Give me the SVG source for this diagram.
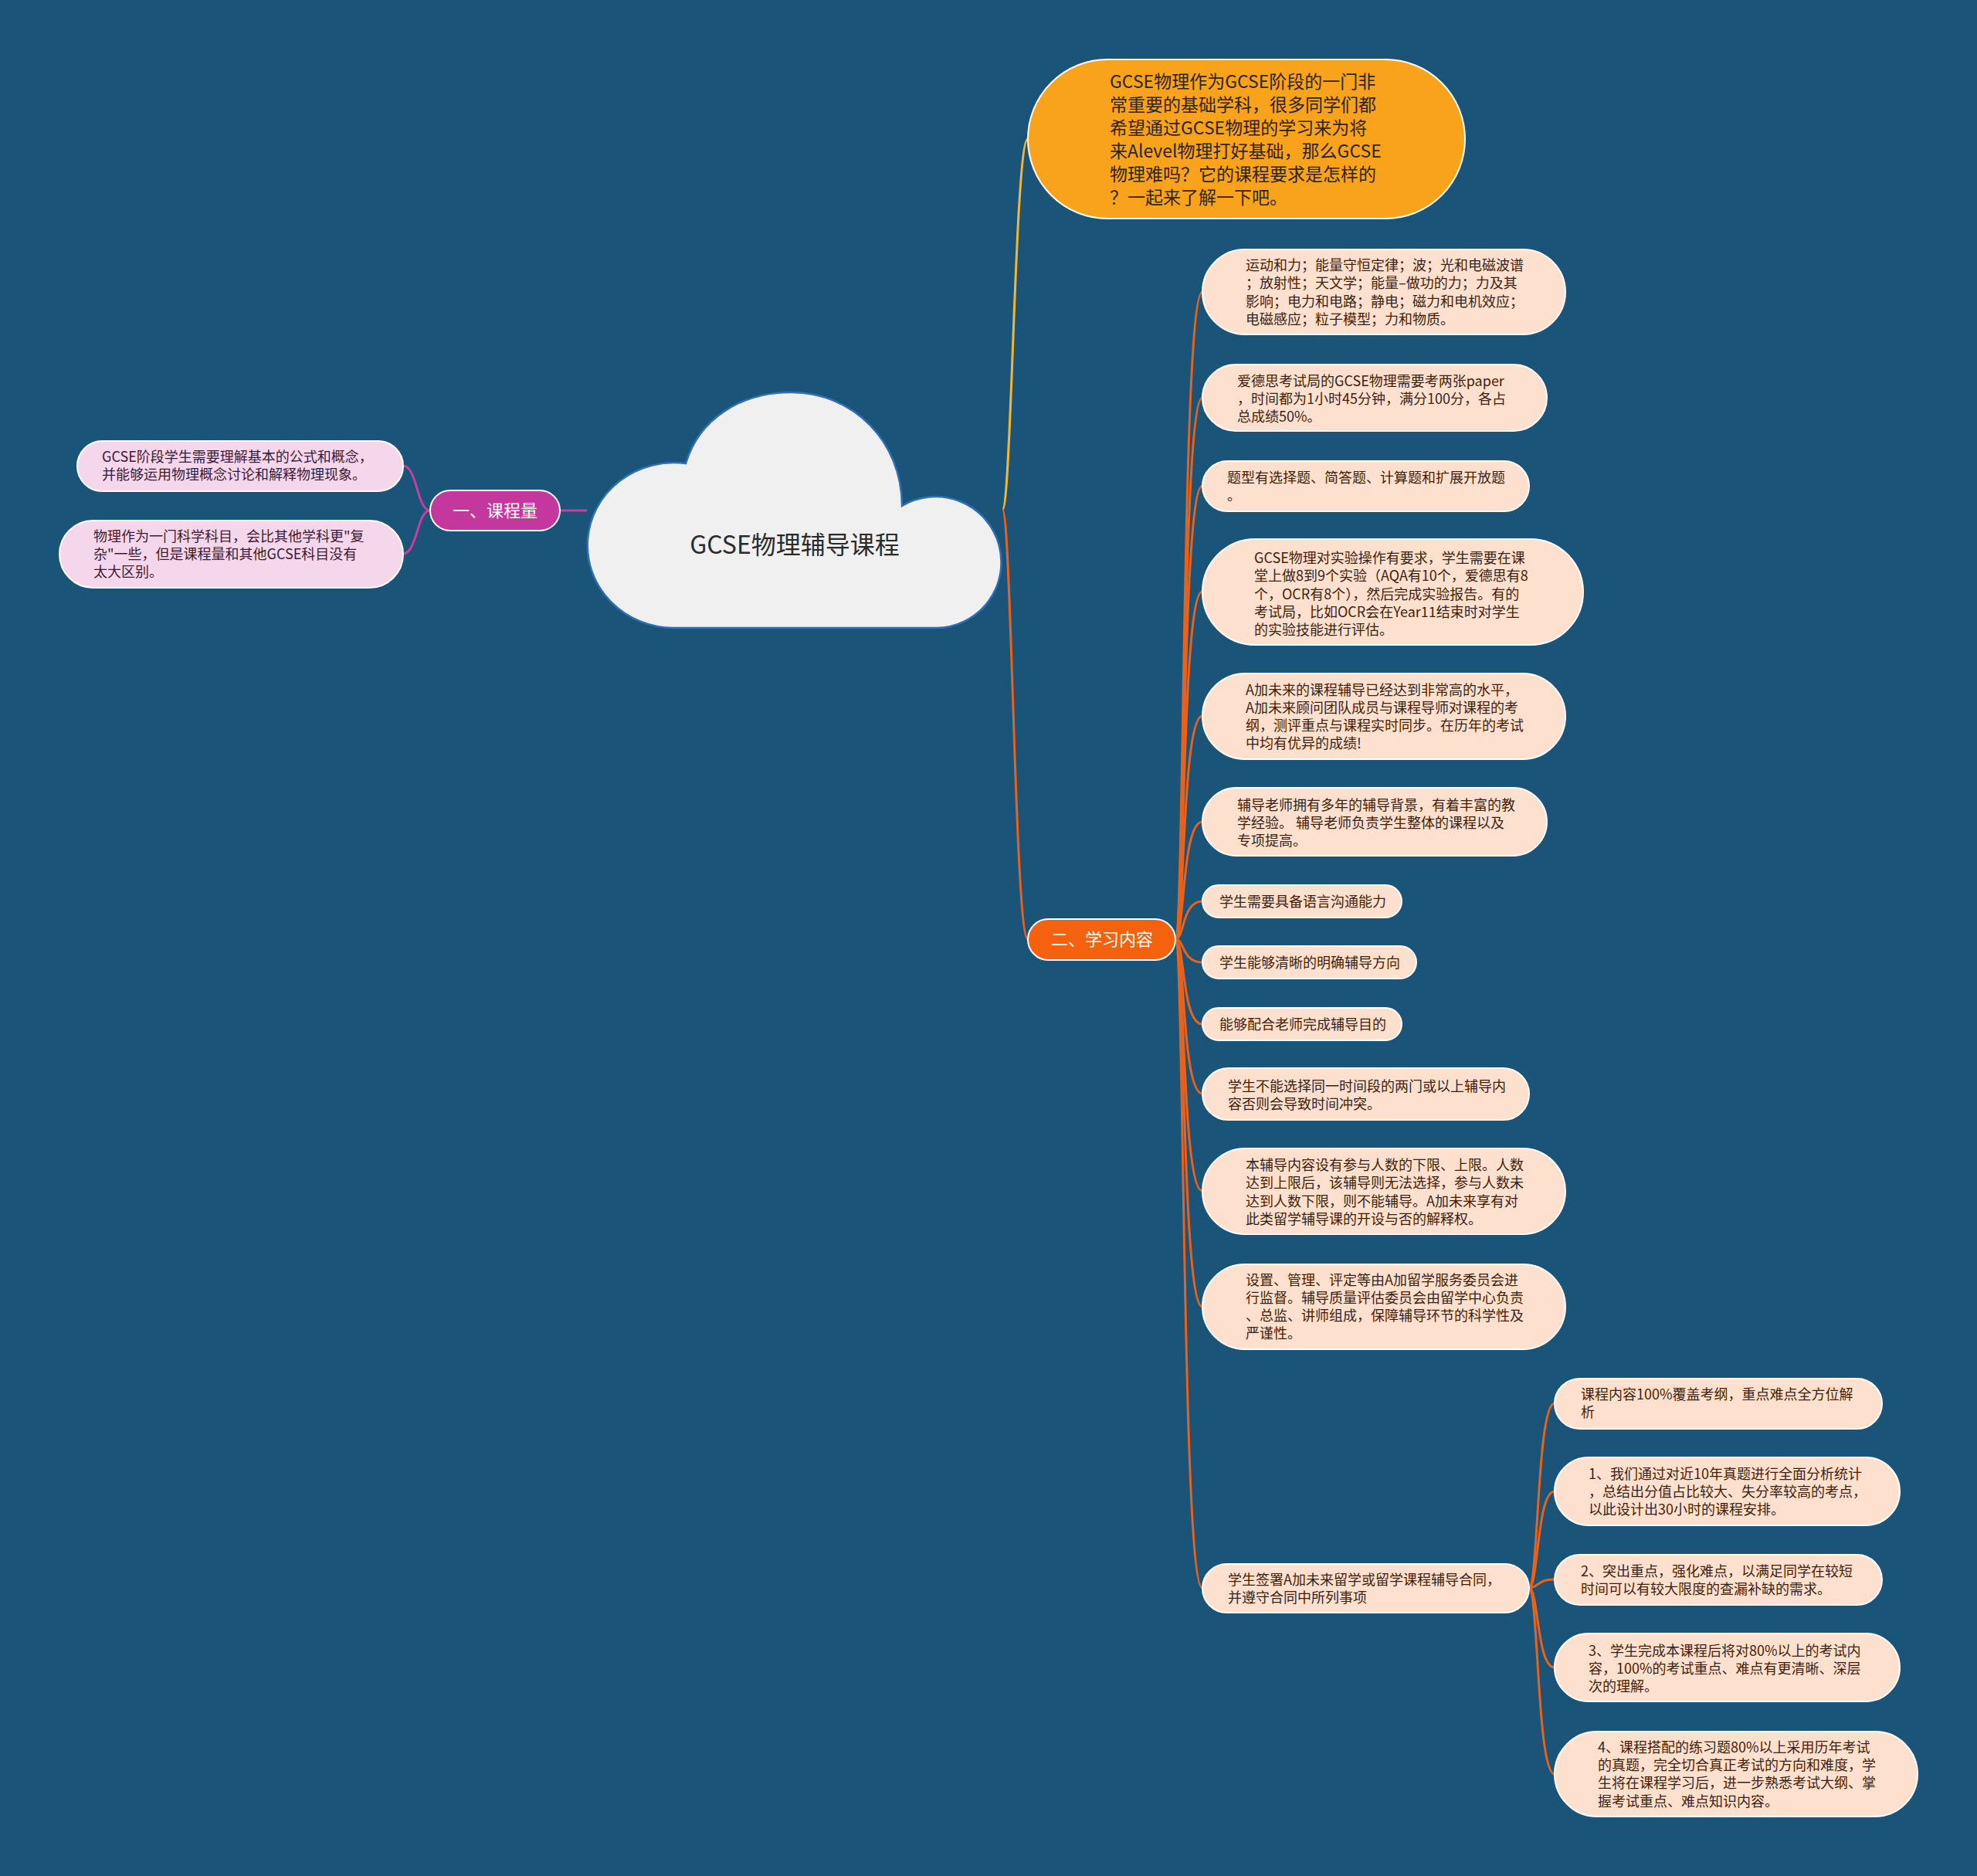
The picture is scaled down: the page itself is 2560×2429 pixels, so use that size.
<svg xmlns="http://www.w3.org/2000/svg" width="2560" height="2429" viewBox="0 0 2560 2429">
<style>
text{font-family:"Noto Sans CJK SC","Noto Sans",sans-serif}
.bg{fill:#1b5479}
.peach{fill:#fde0cd;stroke:#ffffff;stroke-width:2}
.pink{fill:#f5d7ec;stroke:#ffffff;stroke-width:2}
.t18{font-size:18px;fill:#3f1e0c}
.tp{font-size:18px;fill:#3d1a33}
.tw{font-size:22px;fill:#ffffff;text-anchor:middle}
.co{fill:none;stroke:#e8621c;stroke-width:3}
.cm{fill:none;stroke:#c2409e;stroke-width:3}
.cy{fill:none;stroke:#f2b632;stroke-width:3}
</style>
<rect class="bg" x="0" y="0" width="2560" height="2429"/>

<g id="connectors">
  <path class="cm" d="M 760 661 L 725 661"/>
  <path class="cm" d="M 557 661 C 540 661, 540 603, 522 603"/>
  <path class="cm" d="M 557 661 C 540 661, 540 717, 522 717"/>
  <path class="cy" d="M 1298 660 C 1310 660, 1314 180, 1331 180"/>
  <path class="co" d="M 1298 660 C 1310 660, 1314 1216, 1331 1216"/>
  <path class="co" d="M 1522 1216 C 1534 1216, 1530 378, 1557 378"/>
  <path class="co" d="M 1522 1216 C 1534 1216, 1530 515, 1557 515"/>
  <path class="co" d="M 1522 1216 C 1534 1216, 1530 629, 1557 629"/>
  <path class="co" d="M 1522 1216 C 1534 1216, 1530 766, 1557 766"/>
  <path class="co" d="M 1522 1216 C 1534 1216, 1530 927, 1557 927"/>
  <path class="co" d="M 1522 1216 C 1534 1216, 1530 1064, 1557 1064"/>
  <path class="co" d="M 1522 1216 C 1534 1216, 1530 1167, 1557 1167"/>
  <path class="co" d="M 1522 1216 C 1534 1216, 1530 1246, 1557 1246"/>
  <path class="co" d="M 1522 1216 C 1534 1216, 1530 1326, 1557 1326"/>
  <path class="co" d="M 1522 1216 C 1534 1216, 1530 1416, 1557 1416"/>
  <path class="co" d="M 1522 1216 C 1534 1216, 1530 1542, 1557 1542"/>
  <path class="co" d="M 1522 1216 C 1534 1216, 1530 1692, 1557 1692"/>
  <path class="co" d="M 1522 1216 C 1534 1216, 1530 2056, 1557 2056"/>
  <path class="co" d="M 1980 2056 C 1992 2056, 1990 1817, 2013 1817"/>
  <path class="co" d="M 1980 2056 C 1992 2056, 1990 1931, 2013 1931"/>
  <path class="co" d="M 1980 2056 C 1992 2056, 1990 2045, 2013 2045"/>
  <path class="co" d="M 1980 2056 C 1992 2056, 1990 2159, 2013 2159"/>
  <path class="co" d="M 1980 2056 C 1992 2056, 1990 2297, 2013 2297"/>
</g>

<g id="root">
  <path d="M 888 600 C 905 543, 958 508, 1025 508 C 1105 508, 1168 572, 1168 655 A 85 85 0 1 1 1213 813 L 872 813 A 112 107 0 1 1 888 600 Z" fill="#f0f0f0" stroke="#2f6fb3" stroke-width="2.5"/>
  <text x="1029" y="717" font-size="32" fill="#2b2b2b" text-anchor="middle">GCSE物理辅导课程</text>
</g>

<g id="branch-1">
  <rect x="557" y="635" width="168" height="52" rx="26" fill="#c4379c" stroke="#ffffff" stroke-width="2"/>
  <text class="tw" x="641" y="669">一、课程量</text>
</g>
<g id="b1-c1">
  <rect class="pink" x="100" y="571" width="422" height="65" rx="32.5"/>
  <text class="tp"><tspan x="132" y="598">GCSE阶段学生需要理解基本的公式和概念，</tspan><tspan x="132" y="621">并能够运用物理概念讨论和解释物理现象。</tspan></text>
</g>
<g id="b1-c2">
  <rect class="pink" x="77" y="674" width="445" height="87" rx="43.5"/>
  <text class="tp"><tspan x="121" y="701">物理作为一门科学科目，会比其他学科更"复</tspan><tspan x="121" y="724">杂"一些，但是课程量和其他GCSE科目没有</tspan><tspan x="121" y="747">太大区别。</tspan></text>
</g>

<g id="intro">
  <rect x="1331" y="77" width="566" height="206" rx="103" fill="#f9a21c" stroke="#ffffff" stroke-width="2"/>
  <text font-size="23" fill="#2e2410"><tspan x="1437" y="114">GCSE物理作为GCSE阶段的一门非</tspan><tspan x="1437" y="144">常重要的基础学科，很多同学们都</tspan><tspan x="1437" y="174">希望通过GCSE物理的学习来为将</tspan><tspan x="1437" y="204">来Alevel物理打好基础，那么GCSE</tspan><tspan x="1437" y="234">物理难吗？它的课程要求是怎样的</tspan><tspan x="1437" y="264">？一起来了解一下吧。</tspan></text>
</g>

<g id="branch-2">
  <rect x="1331" y="1190" width="191" height="53" rx="26.5" fill="#f4620f" stroke="#ffffff" stroke-width="2"/>
  <text class="tw" x="1427" y="1224">二、学习内容</text>
</g>

<g id="b2-c1">
  <rect class="peach" x="1557" y="323" width="470" height="110" rx="55"/>
  <text class="t18"><tspan x="1613" y="350">运动和力；能量守恒定律；波；光和电磁波谱</tspan><tspan x="1613" y="373">；放射性；天文学；能量–做功的力；力及其</tspan><tspan x="1613" y="397">影响；电力和电路；静电；磁力和电机效应；</tspan><tspan x="1613" y="420">电磁感应；粒子模型；力和物质。</tspan></text>
</g>
<g id="b2-c2">
  <rect class="peach" x="1557" y="472" width="446" height="86" rx="43"/>
  <text class="t18"><tspan x="1602" y="500">爱德思考试局的GCSE物理需要考两张paper</tspan><tspan x="1602" y="523">，时间都为1小时45分钟，满分100分，各占</tspan><tspan x="1602" y="546">总成绩50%。</tspan></text>
</g>
<g id="b2-c3">
  <rect class="peach" x="1557" y="597" width="423" height="65" rx="32.5"/>
  <text class="t18"><tspan x="1589" y="625">题型有选择题、简答题、计算题和扩展开放题</tspan><tspan x="1589" y="648">。</tspan></text>
</g>
<g id="b2-c4">
  <rect class="peach" x="1557" y="698" width="493" height="137" rx="68.5"/>
  <text class="t18"><tspan x="1624" y="729">GCSE物理对实验操作有要求，学生需要在课</tspan><tspan x="1624" y="752">堂上做8到9个实验（AQA有10个，爱德思有8</tspan><tspan x="1624" y="776">个，OCR有8个），然后完成实验报告。有的</tspan><tspan x="1624" y="799">考试局，比如OCR会在Year11结束时对学生</tspan><tspan x="1624" y="822">的实验技能进行评估。</tspan></text>
</g>
<g id="b2-c5">
  <rect class="peach" x="1557" y="872" width="470" height="111" rx="55.5"/>
  <text class="t18"><tspan x="1613" y="900">A加未来的课程辅导已经达到非常高的水平，</tspan><tspan x="1613" y="923">A加未来顾问团队成员与课程导师对课程的考</tspan><tspan x="1613" y="946">纲，测评重点与课程实时同步。在历年的考试</tspan><tspan x="1613" y="969">中均有优异的成绩!</tspan></text>
</g>
<g id="b2-c6">
  <rect class="peach" x="1557" y="1020" width="446" height="88" rx="44"/>
  <text class="t18"><tspan x="1602" y="1049">辅导老师拥有多年的辅导背景，有着丰富的教</tspan><tspan x="1602" y="1072">学经验。 辅导老师负责学生整体的课程以及</tspan><tspan x="1602" y="1095">专项提高。</tspan></text>
</g>
<g id="b2-c7">
  <rect class="peach" x="1557" y="1146" width="258" height="42" rx="21"/>
  <text class="t18" x="1579" y="1174">学生需要具备语言沟通能力</text>
</g>
<g id="b2-c8">
  <rect class="peach" x="1557" y="1225" width="277" height="42" rx="21"/>
  <text class="t18" x="1579" y="1253">学生能够清晰的明确辅导方向</text>
</g>
<g id="b2-c9">
  <rect class="peach" x="1557" y="1305" width="258" height="42" rx="21"/>
  <text class="t18" x="1579" y="1333">能够配合老师完成辅导目的</text>
</g>
<g id="b2-c10">
  <rect class="peach" x="1557" y="1383" width="423" height="67" rx="33.5"/>
  <text class="t18"><tspan x="1590" y="1413">学生不能选择同一时间段的两门或以上辅导内</tspan><tspan x="1590" y="1436">容否则会导致时间冲突。</tspan></text>
</g>
<g id="b2-c11">
  <rect class="peach" x="1557" y="1487" width="470" height="111" rx="55.5"/>
  <text class="t18"><tspan x="1613" y="1515">本辅导内容设有参与人数的下限、上限。人数</tspan><tspan x="1613" y="1538">达到上限后，该辅导则无法选择，参与人数未</tspan><tspan x="1613" y="1562">达到人数下限，则不能辅导。A加未来享有对</tspan><tspan x="1613" y="1585">此类留学辅导课的开设与否的解释权。</tspan></text>
</g>
<g id="b2-c12">
  <rect class="peach" x="1557" y="1637" width="470" height="110" rx="55"/>
  <text class="t18"><tspan x="1613" y="1664">设置、管理、评定等由A加留学服务委员会进</tspan><tspan x="1613" y="1687">行监督。辅导质量评估委员会由留学中心负责</tspan><tspan x="1613" y="1710">、总监、讲师组成，保障辅导环节的科学性及</tspan><tspan x="1613" y="1733">严谨性。</tspan></text>
</g>
<g id="b2-c13">
  <rect class="peach" x="1557" y="2025" width="423" height="63" rx="31.5"/>
  <text class="t18"><tspan x="1590" y="2052">学生签署A加未来留学或留学课程辅导合同，</tspan><tspan x="1590" y="2075">并遵守合同中所列事项</tspan></text>
</g>

<g id="c13-g1">
  <rect class="peach" x="2013" y="1785" width="424" height="65" rx="32.5"/>
  <text class="t18"><tspan x="2047" y="1812">课程内容100%覆盖考纲，重点难点全方位解</tspan><tspan x="2047" y="1835">析</tspan></text>
</g>
<g id="c13-g2">
  <rect class="peach" x="2013" y="1887" width="447" height="88" rx="44"/>
  <text class="t18"><tspan x="2057" y="1915">1、我们通过对近10年真题进行全面分析统计</tspan><tspan x="2057" y="1938">，总结出分值占比较大、失分率较高的考点，</tspan><tspan x="2057" y="1961">以此设计出30小时的课程安排。</tspan></text>
</g>
<g id="c13-g3">
  <rect class="peach" x="2013" y="2013" width="424" height="65" rx="32.5"/>
  <text class="t18"><tspan x="2047" y="2041">2、突出重点，强化难点，以满足同学在较短</tspan><tspan x="2047" y="2064">时间可以有较大限度的查漏补缺的需求。</tspan></text>
</g>
<g id="c13-g4">
  <rect class="peach" x="2013" y="2115" width="447" height="88" rx="44"/>
  <text class="t18"><tspan x="2057" y="2144">3、学生完成本课程后将对80%以上的考试内</tspan><tspan x="2057" y="2167">容，100%的考试重点、难点有更清晰、深层</tspan><tspan x="2057" y="2190">次的理解。</tspan></text>
</g>
<g id="c13-g5">
  <rect class="peach" x="2013" y="2242" width="470" height="110" rx="55"/>
  <text class="t18"><tspan x="2069" y="2269">4、课程搭配的练习题80%以上采用历年考试</tspan><tspan x="2069" y="2292">的真题，完全切合真正考试的方向和难度，学</tspan><tspan x="2069" y="2315">生将在课程学习后，进一步熟悉考试大纲、掌</tspan><tspan x="2069" y="2339">握考试重点、难点知识内容。</tspan></text>
</g>
</svg>
